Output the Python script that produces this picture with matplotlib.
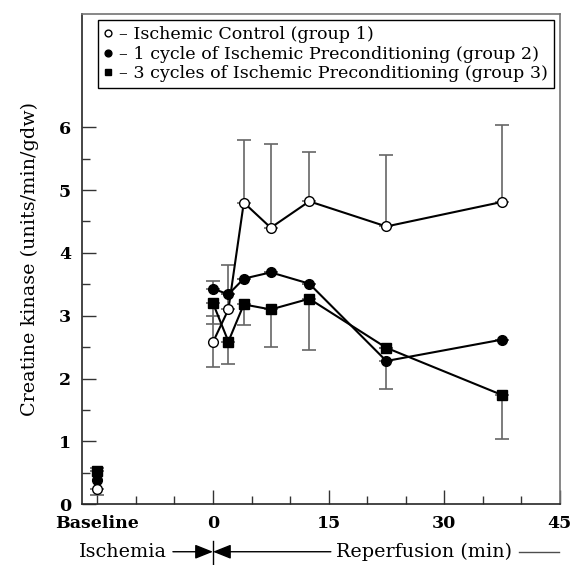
import numpy as np
import matplotlib
matplotlib.use('Agg')
import matplotlib.pyplot as plt
from matplotlib.ticker import MultipleLocator, FixedLocator

plt.rcParams['font.family'] = ['DejaVu Serif']

# time points (baseline is plotted at -15)
t_base = -15
t = [0, 2, 4, 7.5, 12.5, 22.5, 37.5]
tick_pos = [-15, 0, 15, 30, 45]
tick_lab = ['Baseline', '0', '15', '30', '45']

# group 1 - ischemic control
g1_base, g1_base_lo = 0.24, 0.09
g1 = [2.58, 3.10, 4.80, 4.40, 4.82, 4.42, 4.81]
g1_up = [0.41, 0.71, 0.99, 1.33, 0.78, 1.13, 1.23]
g1_lo = [0.39, 0, 0, 0, 0, 0, 0]

# group 2 - 1 cycle of IPC
g2_base = 0.38
g2 = [3.43, 3.34, 3.59, 3.69, 3.51, 2.28, 2.62]
g2_up = [0.12, 0, 0, 0, 0, 0, 0]
g2_lo = [0, 0, 0, 0, 0, 0.45, 0]

# group 3 - 3 cycles of IPC
g3_base, g3_base_up = 0.53, 0.05
g3 = [3.20, 2.59, 3.18, 3.10, 3.27, 2.49, 1.74]
g3_up = [0, 0, 0, 0, 0, 0, 0]
g3_lo = [0.33, 0.35, 0.32, 0.59, 0.82, 0, 0.70]

fig = plt.figure(figsize=(5.71, 5.65), dpi=100)
ax = fig.add_axes([0.1436, 0.1074, 0.8366, 0.8678])

ecol = '0.4'
ekw = dict(fmt='none', ecolor=ecol, elinewidth=1.2, capsize=5, capthick=1.2, zorder=2)

# error bars
ax.errorbar(t, g1, yerr=[g1_lo, g1_up], **ekw)
ax.errorbar(t, g2, yerr=[g2_lo, g2_up], **ekw)
ax.errorbar(t, g3, yerr=[g3_lo, g3_up], **ekw)
ax.errorbar([t_base], [g1_base], yerr=[[g1_base_lo], [0]], **ekw)
ax.errorbar([t_base], [g3_base], yerr=[[0], [g3_base_up]], **ekw)

mk = dict(color='black', lw=1.5, markersize=7, markeredgewidth=1.0, zorder=3)
l1, = ax.plot(t, g1, marker='o', markerfacecolor='white', markeredgecolor='black', **mk)
l2, = ax.plot(t, g2, marker='o', markerfacecolor='black', **mk)
l3, = ax.plot(t, g3, marker='s', markerfacecolor='black', **mk)

# baseline points (not joined)
ax.plot([t_base], [g3_base], marker='s', markerfacecolor='black', **mk)
ax.plot([t_base], [g2_base], marker='o', markerfacecolor='black', **mk)
ax.plot([t_base], [g1_base], marker='o', markerfacecolor='white', markeredgecolor='black', **mk)

ax.set_xlim(-17, 45)
ax.set_ylim(0, 7.8)
ax.set_xticks(tick_pos)
ax.set_xticklabels(tick_lab)
ax.xaxis.set_minor_locator(MultipleLocator(5))
ax.set_yticks([0, 1, 2, 3, 4, 5, 6])
ax.yaxis.set_minor_locator(FixedLocator(np.arange(0.5, 6, 1.0)))
ax.tick_params(which='both', direction='in', top=False, right=False, labelsize=12.5, width=1.0, color='0.2')
ax.tick_params(which='major', length=10)
ax.tick_params(which='minor', length=5.5)
ax.tick_params(axis='x', pad=8)
ax.tick_params(axis='y', pad=8)
for lab in ax.get_xticklabels() + ax.get_yticklabels():
    lab.set_fontweight('bold')

for s in ['left', 'bottom']:
    ax.spines[s].set_linewidth(1.2)
    ax.spines[s].set_color('0.15')
for s in ['top', 'right']:
    ax.spines[s].set_linewidth(1.2)
    ax.spines[s].set_color('0.45')

ax.set_ylabel('Creatine kinase (units/min/gdw)', fontsize=13.8, labelpad=14)

leg = ax.legend([l1, l2, l3],
                ['– Ischemic Control (group 1)',
                 '– 1 cycle of Ischemic Preconditioning (group 2)',
                 '– 3 cycles of Ischemic Preconditioning (group 3)'],
                loc='upper left', bbox_to_anchor=(0.0335, 0.988), borderaxespad=0,
                fontsize=12.6, handlelength=0.5, handletextpad=0.35, labelspacing=0.15,
                borderpad=0.35, fancybox=False, edgecolor='black', framealpha=1,
                markerscale=0.7)
leg.get_frame().set_linewidth(1.0)
for h in leg.legend_handles:
    h.set_linestyle('none')

# ischemia / reperfusion arrows under the axis
tr = ax.get_xaxis_transform()
ya = -0.0967
arw = dict(arrowstyle='-|>,head_length=0.55,head_width=0.22', mutation_scale=20,
           color='black', lw=1.0, shrinkA=0, shrinkB=0)
ax.text(-11.7, ya, 'Ischemia', transform=tr, ha='center', va='center', fontsize=13.8, clip_on=False)
ax.annotate('', xy=(0, ya), xytext=(-5.2, ya), xycoords=tr, textcoords=tr, arrowprops=arw)
ax.annotate('', xy=(0, ya), xytext=(15.3, ya), xycoords=tr, textcoords=tr, arrowprops=arw)
ax.plot([0, 0], [-0.074, -0.13], transform=tr, color='black', lw=1.0, clip_on=False)
ax.text(27.4, ya, 'Reperfusion (min)', transform=tr, ha='center', va='center', fontsize=13.8, clip_on=False)
ax.plot([39.7, 44.9], [ya, ya], transform=tr, color='0.3', lw=1.0, clip_on=False)

fig.savefig('out.png', dpi=100)
